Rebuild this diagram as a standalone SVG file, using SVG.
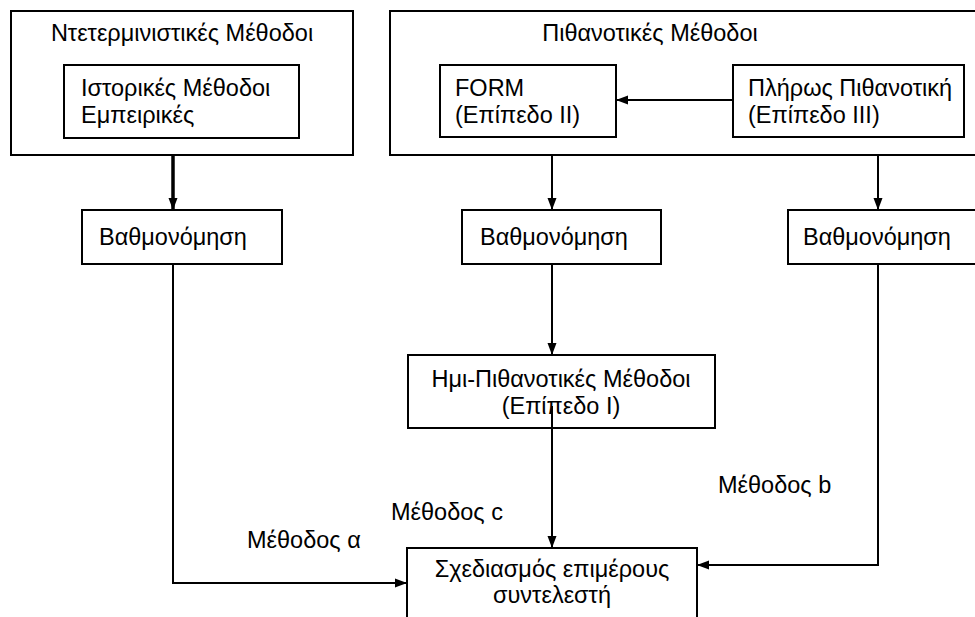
<svg xmlns="http://www.w3.org/2000/svg" width="975" height="617" viewBox="0 0 975 617">
<defs>
<marker id="ah" markerUnits="userSpaceOnUse" markerWidth="12" markerHeight="12" viewBox="0 0 12 12" refX="12" refY="6" orient="auto">
<path d="M0,1.5 L12,6 L0,10.5 Z" fill="#000"/>
</marker>
</defs>
<style>
rect{fill:#fff;stroke:#000;stroke-width:2}
text{font-family:"Liberation Sans",Arial,sans-serif;font-size:23.5px;fill:#000}
.c{text-anchor:middle}
.ln{fill:none;stroke:#000;stroke-width:2}
.thick{stroke-width:3.5}
</style>
<rect x="0" y="0" width="975" height="617" style="fill:#fff;stroke:none"/>
<g id="deterministic">
<rect x="11" y="11" width="342" height="144"/>
<text class="c" x="182" y="41">Ντετερμινιστικές Μέθοδοι</text>
</g>
<g id="historical">
<rect x="64" y="65" width="235" height="73"/>
<text x="81" y="96">Ιστορικές Μέθοδοι</text>
<text x="81" y="123">Εμπειρικές</text>
</g>
<g id="probabilistic">
<rect x="390" y="11" width="590" height="144"/>
<text class="c" x="650" y="41">Πιθανοτικές Μέθοδοι</text>
</g>
<g id="form">
<rect x="440" y="65" width="176" height="72"/>
<text x="455" y="96">FORM</text>
<text x="455" y="123">(Επίπεδο ΙΙ)</text>
</g>
<g id="full">
<rect x="733" y="65" width="231" height="72"/>
<text x="748" y="96">Πλήρως Πιθανοτική</text>
<text x="748" y="123">(Επίπεδο ΙΙΙ)</text>
</g>
<g id="grading-left">
<rect x="82" y="210" width="200" height="54"/>
<text x="99" y="245">Βαθμονόμηση</text>
</g>
<g id="grading-mid">
<rect x="462" y="210" width="199" height="54"/>
<text x="480" y="245">Βαθμονόμηση</text>
</g>
<g id="grading-right">
<rect x="788" y="210" width="200" height="54"/>
<text x="803" y="245">Βαθμονόμηση</text>
</g>
<g id="semi">
<rect x="408" y="355" width="307" height="73"/>
<text class="c" x="561" y="387">Ημι-Πιθανοτικές Μέθοδοι</text>
<text class="c" x="561" y="414">(Επίπεδο Ι)</text>
</g>
<g id="design">
<rect x="407" y="548" width="290" height="90"/>
<text class="c" x="552" y="577">Σχεδιασμός επιμέρους</text>
<text class="c" x="552" y="603">συντελεστή</text>
</g>
<g id="labels">
<text x="247" y="548">Μέθοδος α</text>
<text x="391" y="520">Μέθοδος c</text>
<text x="718" y="493">Μέθοδος b</text>
</g>
<g id="connectors">
<path class="ln thick" d="M173,156 V210" marker-end="url(#ah)"/>
<path class="ln" d="M552,156 V210" marker-end="url(#ah)"/>
<path class="ln" d="M878,156 V210" marker-end="url(#ah)"/>
<path class="ln" d="M733,100 H616" marker-end="url(#ah)"/>
<path class="ln" d="M552,264 V355" marker-end="url(#ah)"/>
<path class="ln" d="M173,264 V583 H407" marker-end="url(#ah)"/>
<path class="ln" d="M878,264 V565 H697" marker-end="url(#ah)"/>
<path class="ln" d="M552,406 V548" marker-end="url(#ah)"/>
</g>
</svg>
